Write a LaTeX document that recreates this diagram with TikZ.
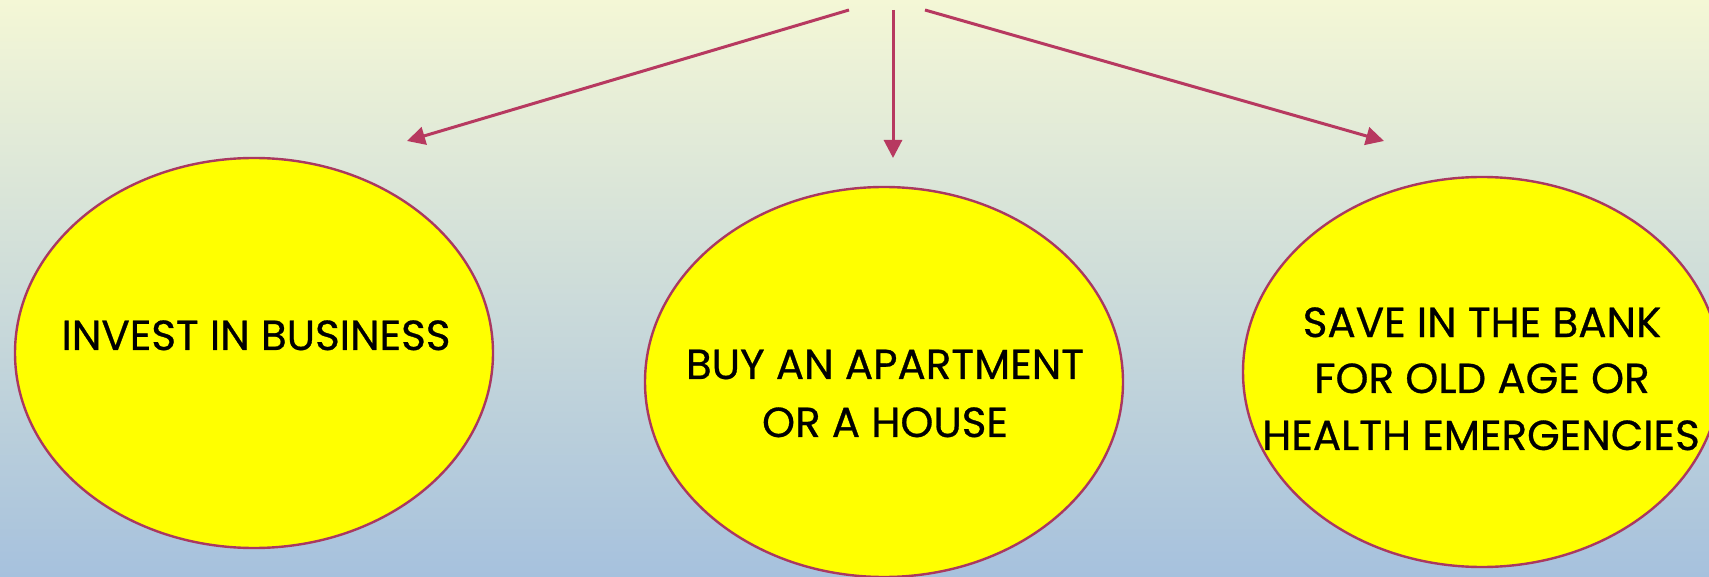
\documentclass[tikz,border=0pt]{standalone}
\usepackage{fontspec}
\setmainfont{Poppins}
\newfontfamily\lblfont{Poppins}[FakeBold=0.7]
\usetikzlibrary{arrows.meta,shapes.geometric}
\definecolor{arr}{RGB}{183,57,96}
\definecolor{edge}{RGB}{170,56,96}
\definecolor{topbg}{RGB}{244,247,214}
\definecolor{botbg}{RGB}{166,193,221}
\definecolor{fillyel}{RGB}{255,255,0}
\tikzset{
  oval/.style={ellipse, draw=edge, line width=1.2pt, fill=fillyel, minimum width=239pt, minimum height=195pt, inner sep=0pt},
  lbl/.style={anchor=base, inner sep=0pt, font=\lblfont\fontsize{21pt}{25pt}\selectfont, text=black},
  conn/.style={draw=arr, line width=1.5pt, -{Triangle[length=9pt,width=9pt]}}
}
\begin{document}
\begin{tikzpicture}[x=0.5pt,y=-0.5pt]
\shade[top color=topbg, bottom color=botbg] (0,0) rectangle (1709,577);
\useasboundingbox (0,0) rectangle (1709,577);
\node[oval] (L) at (254,353) {};
\node[oval] (M) at (884,382) {};
\node[oval] (R) at (1482,372) {};
\node[lbl] (tl) at (256,350) {INVEST IN BUSINESS};
\node[lbl] (tm1) at (885,379) {BUY AN APARTMENT};
\node[lbl] (tm2) at (885,437) {OR A HOUSE};
\node[lbl] (tr1) at (1482,337) {SAVE IN THE BANK};
\node[lbl] (tr2) at (1482,393) {FOR OLD AGE OR};
\node[lbl] (tr3) at (1481,450) {HEALTH EMERGENCIES};
\coordinate (s1) at (849,10);
\coordinate (e1) at (407,141);
\coordinate (s2) at (893,10);
\coordinate (e2) at (893,158);
\coordinate (s3) at (925,10);
\coordinate (e3) at (1384,141);
\draw[conn] (s1) -- (e1);
\draw[conn] (s2) -- (e2);
\draw[conn] (s3) -- (e3);
\end{tikzpicture}
\end{document}
